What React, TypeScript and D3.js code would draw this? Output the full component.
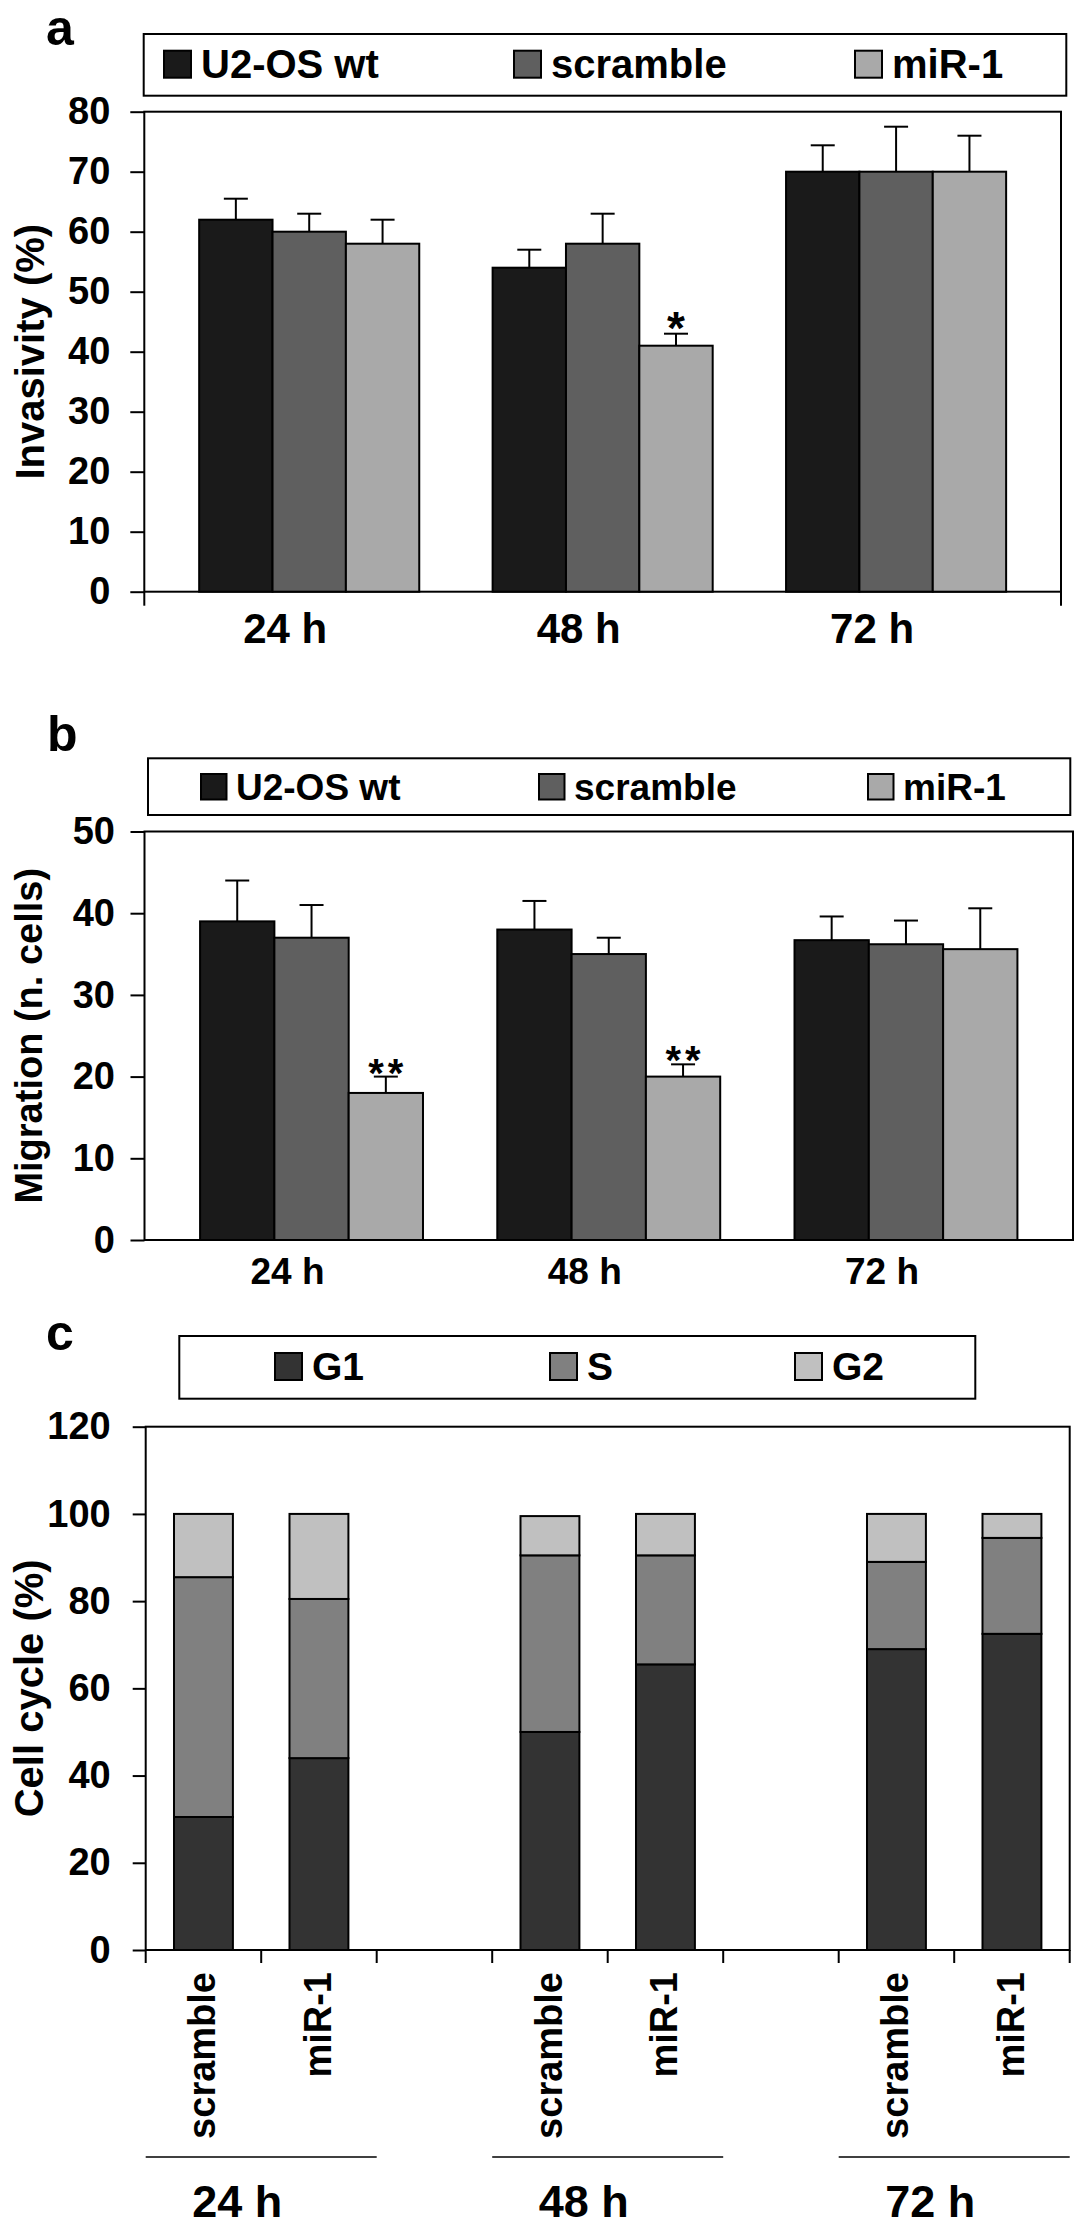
import React, { useRef, useEffect } from 'react';
import * as d3 from 'd3';

const times = ['24 h', '48 h', '72 h'];
const groups = ['U2-OS wt', 'scramble', 'miR-1'];
const groupColors = ['#1a1a1a', '#5f5f5f', '#a9a9a9'];

// a: invasivity (%)
const invWt = [62, 54, 70];
const invScr = [60, 58, 70];
const invMir = [58, 41, 70];
const invWtErr = [3.5, 3, 4.4];
const invScrErr = [3, 5, 7.5];
const invMirErr = [4, 2, 6];
const invStars = ['', '*', ''];

// b: migration (n. cells)
const migWt = [39, 38, 36.7];
const migScr = [37, 35, 36.2];
const migMir = [18, 20, 35.6];
const migWtErr = [5, 3.5, 2.9];
const migScrErr = [4, 2, 2.9];
const migMirErr = [2, 1.5, 5];
const migStars = ['**', '**', ''];

// c: cell cycle (%), order: 24h scr, 24h miR, 48h scr, 48h miR, 72h scr, 72h miR
const cycleConditions = ['scramble', 'miR-1'];
const phases = ['G1', 'S', 'G2'];
const phaseColors = ['#333333', '#808080', '#c0c0c0'];
const g1 = [30.5, 44, 50, 65.5, 69, 72.5];
const sPhase = [55, 36.5, 40.5, 25, 20, 22];
const g2 = [14.5, 19.5, 9, 9.5, 11, 5.5];

const FONT = "'Liberation Sans', Arial, Helvetica, sans-serif";

type Sel = d3.Selection<SVGSVGElement, unknown, null, undefined>;

function boldText(sel: any, size: number) {
  return sel
    .style('font-family', FONT)
    .style('font-size', `${size}px`)
    .style('font-weight', 'bold')
    .attr('fill', '#000');
}

function drawLegend(svg: Sel, box: number[], swatchX: number[], swatchY: number, size: number,
  labels: string[], colors: string[], fontSize: number, baseline: number, gap: number) {
  const g = svg.append('g');
  g.append('rect')
    .attr('x', box[0]).attr('y', box[1]).attr('width', box[2]).attr('height', box[3])
    .attr('fill', '#fff').attr('stroke', '#000').attr('stroke-width', 2);
  labels.forEach((lab, i) => {
    g.append('rect')
      .attr('x', swatchX[i]).attr('y', swatchY).attr('width', size).attr('height', size)
      .attr('fill', colors[i]).attr('stroke', '#000').attr('stroke-width', 2);
    boldText(g.append('text').attr('x', swatchX[i] + gap).attr('y', baseline).text(lab), fontSize);
  });
}

function drawGrouped(svg: Sel, cfg: any) {
  const { left, right, top, bottom } = cfg;
  const y = d3.scaleLinear().domain([0, cfg.yMax]).range([bottom, top]);
  const x0 = d3.scaleBand().domain(times).range([left, right]).paddingInner(0.25).paddingOuter(0.187);
  const x1 = d3.scaleBand().domain(groups).range([0, x0.bandwidth()]);
  const g = svg.append('g');

  g.append('rect')
    .attr('x', left).attr('y', top).attr('width', right - left).attr('height', bottom - top)
    .attr('fill', 'none').attr('stroke', '#000').attr('stroke-width', 2);

  if (cfg.endTicks) {
    [left, right].forEach(xx => {
      g.append('line').attr('x1', xx).attr('x2', xx).attr('y1', bottom).attr('y2', bottom + 14)
        .attr('stroke', '#000').attr('stroke-width', 2);
    });
  }

  groups.forEach((name, gi) => {
    const vals: number[] = cfg.values[gi];
    const errs: number[] = cfg.errors[gi];
    const cx = (i: number) => (x0(times[i]) as number) + (x1(name) as number) + x1.bandwidth() / 2;

    // error bars (upper only)
    const eg = g.append('g').attr('stroke', '#000').attr('stroke-width', 2);
    vals.forEach((v, i) => {
      eg.append('line').attr('x1', cx(i)).attr('x2', cx(i)).attr('y1', y(v)).attr('y2', y(v + errs[i]));
      eg.append('line').attr('x1', cx(i) - 12).attr('x2', cx(i) + 12)
        .attr('y1', y(v + errs[i])).attr('y2', y(v + errs[i]));
    });

    g.append('g').selectAll('rect').data(vals).join('rect')
      .attr('x', (d, i) => (x0(times[i]) as number) + (x1(name) as number))
      .attr('y', d => y(d))
      .attr('width', x1.bandwidth())
      .attr('height', d => y(0) - y(d))
      .attr('fill', groupColors[gi])
      .attr('stroke', '#000')
      .attr('stroke-width', 2);

    if (name === 'miR-1') {
      cfg.stars.forEach((s: string, i: number) => {
        if (!s) return;
        boldText(g.append('text')
          .attr('x', cx(i) + (s.length > 1 ? 2 : 0))
          .attr('y', y(vals[i] + errs[i]) + cfg.starOffset)
          .attr('text-anchor', 'middle')
          .style('letter-spacing', s.length > 1 ? '4px' : '0px')
          .text(s), cfg.starSize);
      });
    }
  });

  const yAxis = g.append('g')
    .attr('transform', `translate(${left},0)`)
    .call(d3.axisLeft(y).tickValues(d3.range(0, cfg.yMax + 1, cfg.yStep)).tickSize(14).tickPadding(cfg.tickPad));
  yAxis.select('.domain').remove();
  yAxis.selectAll('line').attr('stroke', '#000').attr('stroke-width', 2);
  boldText(yAxis.selectAll('text'), cfg.tickSize);

  const xAxis = g.append('g')
    .attr('transform', `translate(0,${bottom})`)
    .call(d3.axisBottom(x0).tickSize(0).tickPadding(cfg.xPad));
  xAxis.select('.domain').remove();
  boldText(xAxis.selectAll('text'), cfg.xSize).attr('dx', -24);

  boldText(g.append('text')
    .attr('transform', `translate(${cfg.titleX},${(top + bottom) / 2}) rotate(-90)`)
    .attr('text-anchor', 'middle')
    .text(cfg.title), cfg.titleSize);
}

function drawCycle(svg: Sel) {
  const left = 145.7, right = 1069.7, top = 1426.7, bottom = 1950;
  const slots: string[] = [];
  times.forEach((t, ti) => {
    cycleConditions.forEach(c => slots.push(`${t}|${c}`));
    if (ti < times.length - 1) slots.push(`${t}|gap`);
  });
  const rows = times.flatMap((t, ti) => cycleConditions.map((c, ci) => {
    const k = ti * cycleConditions.length + ci;
    return { key: `${t}|${c}`, G1: g1[k], S: sPhase[k], G2: g2[k] };
  }));

  const x = d3.scaleBand().domain(slots).range([left, right]).paddingInner(0.49).paddingOuter(0.245);
  const y = d3.scaleLinear().domain([0, 120]).range([bottom, top]);
  const stacked = d3.stack<any>().keys(phases)(rows);
  const g = svg.append('g');

  g.append('rect')
    .attr('x', left).attr('y', top).attr('width', right - left).attr('height', bottom - top)
    .attr('fill', 'none').attr('stroke', '#000').attr('stroke-width', 2);

  stacked.forEach((layer, li) => {
    g.append('g').selectAll('rect').data(layer).join('rect')
      .attr('x', d => x(d.data.key) as number)
      .attr('y', d => y(d[1]))
      .attr('width', x.bandwidth())
      .attr('height', d => y(d[0]) - y(d[1]))
      .attr('fill', phaseColors[li])
      .attr('stroke', '#000')
      .attr('stroke-width', 2);
  });

  // category ticks between slots
  const step = x.step();
  const bounds = d3.range(slots.length + 1).map(i => left + i * step);
  g.append('g').selectAll('line').data(bounds).join('line')
    .attr('x1', d => d).attr('x2', d => d).attr('y1', bottom).attr('y2', bottom + 13)
    .attr('stroke', '#000').attr('stroke-width', 2);

  rows.forEach(r => {
    const cx = (x(r.key) as number) + x.bandwidth() / 2;
    boldText(g.append('text')
      .attr('transform', `translate(${cx + 12},${bottom + 22}) rotate(-90)`)
      .attr('text-anchor', 'end')
      .text(r.key.split('|')[1]), 38);
  });

  times.forEach((t, ti) => {
    const x1 = x(`${t}|${cycleConditions[0]}`) as number;
    const x2 = (x(`${t}|${cycleConditions[1]}`) as number) + x.bandwidth();
    const a = x1 - (step - x.bandwidth()) / 2;
    const b = x2 + (step - x.bandwidth()) / 2;
    g.append('line').attr('x1', a).attr('x2', b).attr('y1', 2157).attr('y2', 2157)
      .attr('stroke', '#000').attr('stroke-width', 1.5);
    boldText(g.append('text').attr('x', (a + b) / 2 - 24).attr('y', 2217)
      .attr('text-anchor', 'middle').text(t), 45);
  });

  const yAxis = g.append('g')
    .attr('transform', `translate(${left},0)`)
    .call(d3.axisLeft(y).tickValues(d3.range(0, 121, 20)).tickSize(13).tickPadding(22));
  yAxis.select('.domain').remove();
  yAxis.selectAll('line').attr('stroke', '#000').attr('stroke-width', 2);
  boldText(yAxis.selectAll('text'), 38);

  boldText(g.append('text')
    .attr('transform', `translate(43,${(top + bottom) / 2}) rotate(-90)`)
    .attr('text-anchor', 'middle')
    .text('Cell cycle (%)'), 40);
}

const App: React.FC = () => {
  const svgRef = useRef<SVGSVGElement | null>(null);

  useEffect(() => {
    const svg = d3.select(svgRef.current as SVGSVGElement);
    svg.selectAll('*').remove();
    svg.append('rect').attr('width', 1087).attr('height', 2231).attr('fill', '#fff');

    // panel a
    boldText(svg.append('text').attr('x', 46).attr('y', 45).text('a'), 50);
    drawLegend(svg, [143.7, 34, 922.6, 61.7], [164, 514, 855], 50.7, 27,
      groups, groupColors, 40, 78, 37);
    drawGrouped(svg, {
      left: 144.3, right: 1061, top: 111.7, bottom: 591.7,
      yMax: 80, yStep: 10, tickPad: 20, tickSize: 38,
      values: [invWt, invScr, invMir], errors: [invWtErr, invScrErr, invMirErr],
      stars: invStars, starSize: 46, starOffset: 10,
      xPad: 21, xSize: 42, endTicks: true,
      title: 'Invasivity (%)', titleX: 44, titleSize: 40,
    });

    // panel b
    boldText(svg.append('text').attr('x', 47).attr('y', 751).text('b'), 50);
    drawLegend(svg, [148, 758.3, 922.3, 56.7], [201, 539, 868], 774, 25.5,
      groups, groupColors, 37, 800, 35);
    drawGrouped(svg, {
      left: 144.5, right: 1073, top: 831.5, bottom: 1240,
      yMax: 50, yStep: 10, tickPad: 15.5, tickSize: 38,
      values: [migWt, migScr, migMir], errors: [migWtErr, migScrErr, migMirErr],
      stars: migStars, starSize: 40, starOffset: 10,
      xPad: 18, xSize: 37, endTicks: false,
      title: 'Migration (n. cells)', titleX: 42, titleSize: 38,
    });

    // panel c
    boldText(svg.append('text').attr('x', 46).attr('y', 1350).text('c'), 50);
    drawLegend(svg, [179.3, 1336, 796, 62.7], [275, 550, 795], 1353, 27,
      phases, phaseColors, 39, 1380, 37);
    drawCycle(svg);
  }, []);

  return (
    <svg
      ref={svgRef}
      width={1087}
      height={2231}
      style={{ position: 'absolute', left: 0, top: 0, display: 'block' }}
    />
  );
};

export default App;
